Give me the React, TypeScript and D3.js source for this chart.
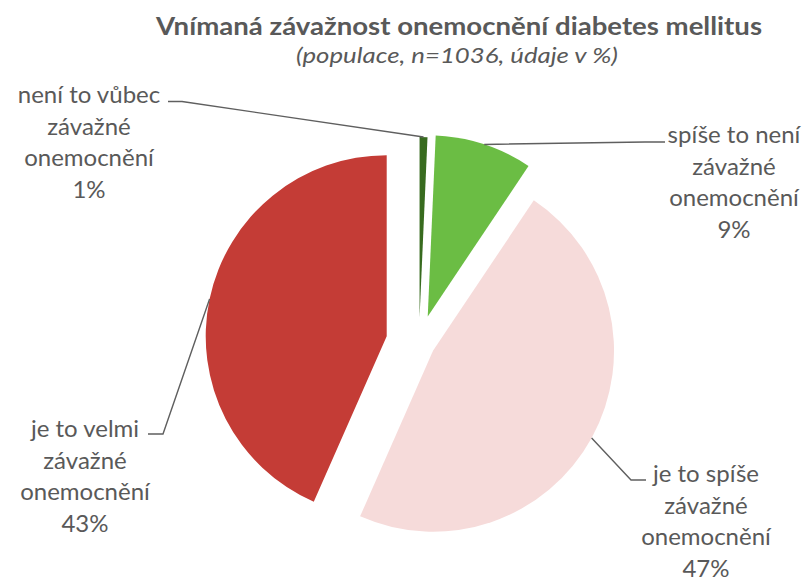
import React, { useEffect, useRef } from "react";
import * as d3 from "d3";

// data
const categories = [
  "není to vůbec závažné onemocnění",
  "spíše to není závažné onemocnění",
  "je to spíše závažné onemocnění",
  "je to velmi závažné onemocnění",
];
const shares = [0.7, 8.7, 47.2, 43.4];
const labelLines = [
  ["není to vůbec", "závažné", "onemocnění", "1%"],
  ["spíše to není", "závažné", "onemocnění", "9%"],
  ["je to spíše", "závažné", "onemocnění", "47%"],
  ["je to velmi", "závažné", "onemocnění", "43%"],
];
const colors = ["#386b1f", "#6bbd44", "#f6dbda", "#c43c36"];

const title = "Vnímaná závažnost onemocnění diabetes mellitus";
const subtitle = "(populace, n=1036, údaje v %)";

const App = () => {
  const ref = useRef<SVGSVGElement>(null);

  useEffect(() => {
    const width = 809;
    const height = 578;
    const cx = 419;
    const cy = 343;
    const radius = 181;
    const explode = [25, 28, 16, 33]; // per-slice pull-out in px
    // label layout: center x, first baseline, elbow start/end
    const labelPos = [
      { x: 89, y: 103, e0: [168, 101.5], e1: [182, 101.5] },
      { x: 734, y: 143, e0: [665, 142], e1: [645, 142] },
      { x: 706, y: 482, e0: [646, 480], e1: [631, 480] },
      { x: 85, y: 437, e0: [148, 434], e1: [163, 434] },
    ];
    const lineH = 31.7;

    const svg = d3.select(ref.current);
    svg.selectAll("*").remove();
    svg.attr("width", width).attr("height", height);

    svg
      .append("text")
      .attr("x", 459)
      .attr("y", 35)
      .attr("text-anchor", "middle")
      .attr("font-family", "Lato")
      .attr("font-weight", "bold")
      .attr("font-size", 25)
      .attr("fill", "#595959")
      .attr("textLength", 606)
      .attr("lengthAdjust", "spacingAndGlyphs")
      .text(title);

    svg
      .append("text")
      .attr("x", 457)
      .attr("y", 63)
      .attr("text-anchor", "middle")
      .attr("font-family", "Lato")
      .attr("font-style", "italic")
      .attr("font-size", 21)
      .attr("fill", "#595959")
      .attr("textLength", 322)
      .attr("lengthAdjust", "spacingAndGlyphs")
      .text(subtitle);

    const pie = d3
      .pie<number>()
      .sort(null)
      .value((d) => d);
    const arcs = pie(shares);
    const arc = d3.arc<d3.PieArcDatum<number>>().innerRadius(0).outerRadius(radius);

    const g = svg.append("g").attr("transform", `translate(${cx},${cy})`);

    arcs.forEach((a, i) => {
      const mid = (a.startAngle + a.endAngle) / 2;
      const dx = Math.sin(mid) * explode[i];
      const dy = -Math.cos(mid) * explode[i];
      g.append("path")
        .attr("d", arc(a) as string)
        .attr("transform", `translate(${dx},${dy})`)
        .attr("fill", colors[i])
        .append("title")
        .text(categories[i]);

      // leader line from the slice edge to the label
      const px = cx + dx + Math.sin(mid) * radius;
      const py = cy + dy - Math.cos(mid) * radius;
      const lp = labelPos[i];
      svg
        .append("path")
        .attr("d", d3.line()([[px, py], lp.e1 as [number, number], lp.e0 as [number, number]]) as string)
        .attr("fill", "none")
        .attr("stroke", "#5f5f5f")
        .attr("stroke-width", 1.4);

      const t = svg
        .append("text")
        .attr("text-anchor", "middle")
        .attr("font-family", "Lato")
        .attr("font-size", 24)
        .attr("fill", "#595959");
      labelLines[i].forEach((s, k) => {
        t.append("tspan").attr("x", lp.x).attr("y", lp.y + k * lineH).text(s);
      });
    });
  }, []);

  return (
    <div>
      <svg ref={ref} style={{ position: "absolute", left: 0, top: 0 }}></svg>
    </div>
  );
};

export default App;
